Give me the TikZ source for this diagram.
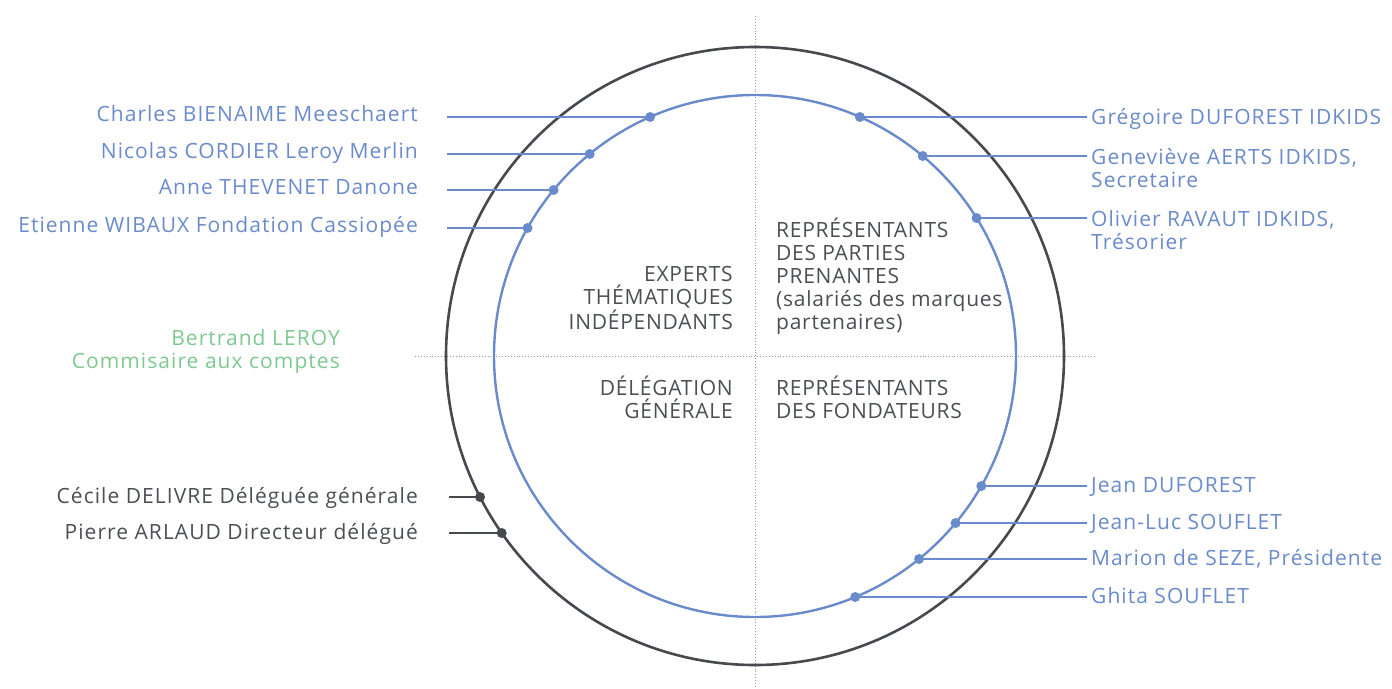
\documentclass[tikz,border=0pt]{standalone}
\usepackage{fontspec}
\setmainfont[LetterSpace=5]{Open Sans}
\newfontfamily\quadfont[LetterSpace=3.5]{Open Sans}
\definecolor{cblue}{HTML}{6A8BCB}
\definecolor{cdark}{HTML}{46494E}
\definecolor{cgreen}{HTML}{7DC98F}
\definecolor{ctext}{HTML}{4B4E53}
\begin{document}
\begin{tikzpicture}[x=1pt,y=-1pt,
  lbl/.style={inner sep=0pt,font=\fontsize{21}{23}\selectfont},
  bluelbl/.style={lbl,text=cblue},
  darklbl/.style={lbl,text=ctext},
  quad/.style={inner sep=0pt,text=ctext,font=\quadfont\fontsize{21}{23}\selectfont},
  bluelink/.style={draw=cblue,line width=2.6pt},
  darklink/.style={draw=cdark,line width=2.6pt},
  bluedot/.style={fill=cblue},
  darkdot/.style={fill=cdark},
  guide/.style={draw=gray!80,line width=0.9pt,dotted}]
\useasboundingbox (0,0) rectangle (1392,688);
% guides
\coordinate (vt) at (755,16);
\coordinate (vb) at (755,688);
\coordinate (hl) at (415,356);
\coordinate (hr) at (1096,356);
\draw[guide] (vt) -- (vb);
\draw[guide] (hl) -- (hr);
% circles
\coordinate (c) at (755,356);
\draw[cdark,line width=2.6pt] (c) circle[radius=309];
\draw[cblue,line width=2.4pt] (c) circle[radius=261];
% quadrant labels
\node[quad,anchor=base east,align=right] (q1) at (733,329) {EXPERTS\\THÉMATIQUES\\INDÉPENDANTS};
\node[quad,anchor=base west,align=left] (q2) at (776,329) {REPRÉSENTANTS\\DES PARTIES\\PRENANTES\\(salariés des marques\\partenaires)};
\node[quad,anchor=base east,align=right] (q3) at (733,418) {DÉLÉGATION\\GÉNÉRALE};
\node[quad,anchor=base west,align=left] (q4) at (776,418) {REPRÉSENTANTS\\DES FONDATEURS};
% green label
\node[lbl,text=cgreen,anchor=base east,align=right] (cac) at (340,368) {Bertrand LEROY\\Commisaire aux comptes};
% left blue
\foreach \n/\y/\t in {a1/117/Charles BIENAIME Meeschaert,a2/154/Nicolas CORDIER Leroy Merlin,a3/190/Anne THEVENET Danone,a4/228/Etienne WIBAUX Fondation Cassiopée}{
  \node[bluelbl,anchor=base east] (\n) at (418,\y+4) {\t};
  \coordinate (\n s) at (447,\y);
  \coordinate (\n d) at ({755-261*sqrt(1-((356-\y)/261)^2)},\y);
  \path[bluelink] (\n s) -- (\n d);
  \fill[bluedot] (\n d) circle[radius=5];
}
% right blue top
\foreach \n/\y in {b1/117,b2/156,b3/218}{
  \coordinate (\n s) at (1087,\y);
  \coordinate (\n d) at ({755+261*sqrt(1-((356-\y)/261)^2)},\y);
  \path[bluelink] (\n s) -- (\n d);
  \fill[bluedot] (\n d) circle[radius=5];
}
\node[bluelbl,anchor=base west] (b1) at (1091,124) {Grégoire DUFOREST IDKIDS};
\node[bluelbl,anchor=base west,align=left] (b2) at (1091,187) {Geneviève AERTS IDKIDS,\\Secretaire};
\node[bluelbl,anchor=base west,align=left] (b3) at (1091,249) {Olivier RAVAUT IDKIDS,\\Trésorier};
% right blue bottom
\foreach \n/\y/\t in {e1/486/Jean DUFOREST,e2/523/Jean-Luc SOUFLET,e3/559/{Marion de SEZE, Présidente},e4/597/Ghita SOUFLET}{
  \node[bluelbl,anchor=base west] (\n) at (1091,\y+6) {\t};
  \coordinate (\n s) at (1087,\y);
  \coordinate (\n d) at ({755+261*sqrt(1-((\y-356)/261)^2)},\y);
  \path[bluelink] (\n s) -- (\n d);
  \fill[bluedot] (\n d) circle[radius=5];
}
% left dark
\foreach \n/\y/\t in {g1/497/Cécile DELIVRE Déléguée générale,g2/533/Pierre ARLAUD Directeur délégué}{
  \node[darklbl,anchor=base east] (\n) at (418,\y+6) {\t};
  \coordinate (\n s) at (449,\y);
  \coordinate (\n d) at ({755-309*sqrt(1-((\y-356)/309)^2)},\y);
  \path[darklink] (\n s) -- (\n d);
  \fill[darkdot] (\n d) circle[radius=5];
}
\end{tikzpicture}
\end{document}
